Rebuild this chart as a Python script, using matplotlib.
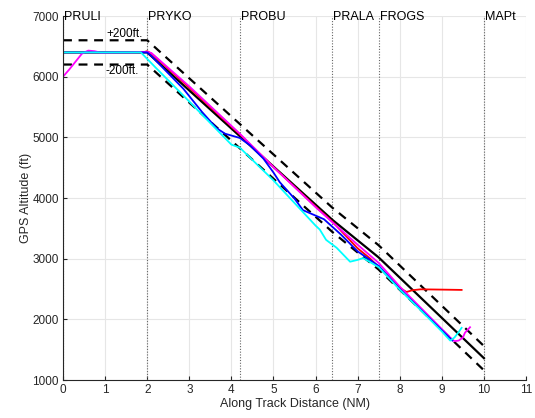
import matplotlib
matplotlib.use("Agg")
import matplotlib.pyplot as plt

plt.rcParams['font.family'] = ['Liberation Sans', 'DejaVu Sans']

# Waypoints
wp_names = ["PRULI", "PRYKO", "PROBU", "PRALA", "FROGS", "MAPt"]
wp_x = [0, 2, 4.2, 6.4, 7.5, 10]

# Nominal profile and +/-200 ft limits
nom_x = [0, 2, 4.2, 6.4, 7.5, 10]
nom_alt = [6400, 6400, 5020, 3640, 3020, 1360]
upper_x = [0, 2, 4.2, 6.4, 7.5, 10]
upper_alt = [6600, 6600, 5220, 3840, 3220, 1560]
lower_x = [0, 2, 4.2, 6.4, 7.5, 10]
lower_alt = [6200, 6200, 4820, 3440, 2820, 1160]

# Flight traces
red_x = [0, 1.9, 2.0, 2.1, 3.0, 4.2, 5.0, 6.0, 6.4, 7.0, 7.3, 7.6, 8.0, 8.16, 8.3, 8.5, 9.0, 9.47]
red_alt = [6400, 6400, 6420, 6380, 5820, 5050, 4510, 3860, 3610, 3170, 3000, 2790, 2520, 2450, 2480, 2495, 2490, 2485]

mag_x = [0.0, 0.15, 0.3, 0.45, 0.6, 0.75, 0.9, 1.2, 1.6, 2.0, 2.1, 3.0, 4.2, 5.0, 6.0, 6.4, 7.0, 7.5, 8.0, 8.5, 9.0, 9.2, 9.3, 9.4, 9.5, 9.55, 9.62, 9.67]
mag_alt = [6000, 6120, 6250, 6380, 6430, 6420, 6395, 6400, 6400, 6410, 6390, 5840, 5060, 4510, 3850, 3600, 3230, 2930, 2540, 2190, 1840, 1700, 1640, 1650, 1700, 1780, 1830, 1870]

blue_x = [0, 2.0, 2.1, 2.86, 3.3, 3.65, 3.85, 4.0, 4.2, 4.44, 4.76, 5.0, 5.15, 5.5, 5.7, 5.9, 6.2, 6.6, 7.0, 7.5, 8.0, 8.5, 9.0, 9.25]
blue_alt = [6400, 6400, 6340, 5800, 5420, 5150, 5060, 5030, 4990, 4870, 4650, 4420, 4260, 3990, 3800, 3740, 3650, 3400, 3120, 2880, 2500, 2160, 1820, 1650]

cyan_x = [0, 1.85, 2.2, 3.0, 4.0, 4.2, 5.0, 6.0, 6.1, 6.25, 6.5, 6.82, 7.0, 7.13, 7.5, 8.0, 8.5, 9.0, 9.2, 9.3, 9.4, 9.47]
cyan_alt = [6400, 6400, 6150, 5590, 4880, 4830, 4290, 3545, 3480, 3310, 3180, 2950, 2980, 3010, 2860, 2490, 2150, 1800, 1650, 1700, 1790, 1860]

xticks = list(range(0, 12))
yticks = [1000, 2000, 3000, 4000, 5000, 6000, 7000]

fig = plt.figure(figsize=(5.35, 4.18), dpi=100)
ax = fig.add_axes([0.1178, 0.0909, 0.8654, 0.8708])

gray = (0.15, 0.15, 0.15)
ax.set_xlim(0, 11)
ax.set_ylim(1000, 7000)
ax.set_xticks(xticks)
ax.set_yticks(yticks)
ax.grid(True, color=(0.9, 0.9, 0.9), linewidth=0.8)
ax.set_axisbelow(True)
for s in ['top', 'right']:
    ax.spines[s].set_visible(False)
for s in ['left', 'bottom']:
    ax.spines[s].set_color(gray)
    ax.spines[s].set_linewidth(0.8)
ax.tick_params(direction='in', length=3, width=0.8, colors=gray, labelsize=8.5, pad=3)

for xv in wp_x:
    ax.plot([xv, xv], [1000, 7000], linestyle=(0, (1, 1.5)), color=(0.4, 0.4, 0.4), linewidth=0.8)

ax.plot(nom_x, nom_alt, color='k', linewidth=1.6)
ax.plot(upper_x, upper_alt, color='k', linewidth=1.6, linestyle=(0, (4, 3)))
ax.plot(lower_x, lower_alt, color='k', linewidth=1.6, linestyle=(0, (4, 3)))

ax.plot(red_x, red_alt, color=(1, 0, 0), linewidth=1.3)
ax.plot(mag_x, mag_alt, color=(1, 0, 1), linewidth=1.3)
ax.plot(blue_x, blue_alt, color=(0, 0, 1), linewidth=1.3)
ax.plot(cyan_x, cyan_alt, color=(0, 1, 1), linewidth=1.3)

for name, xv in zip(wp_names, wp_x):
    ax.text(xv + 0.02, 6990, name, ha='left', va='center', fontsize=9, color='k', clip_on=False)

ax.text(1.02, 6700, "+200ft.", ha='left', va='center', fontsize=8.5, color='k')
ax.text(1.02, 6090, "-200ft.", ha='left', va='center', fontsize=8.5, color='k')

ax.set_xlabel("Along Track Distance (NM)", fontsize=9, color=gray, labelpad=1)
ax.set_ylabel("GPS Altitude (ft)", fontsize=9, color=gray, labelpad=0)

fig.savefig("out.png", dpi=100)
